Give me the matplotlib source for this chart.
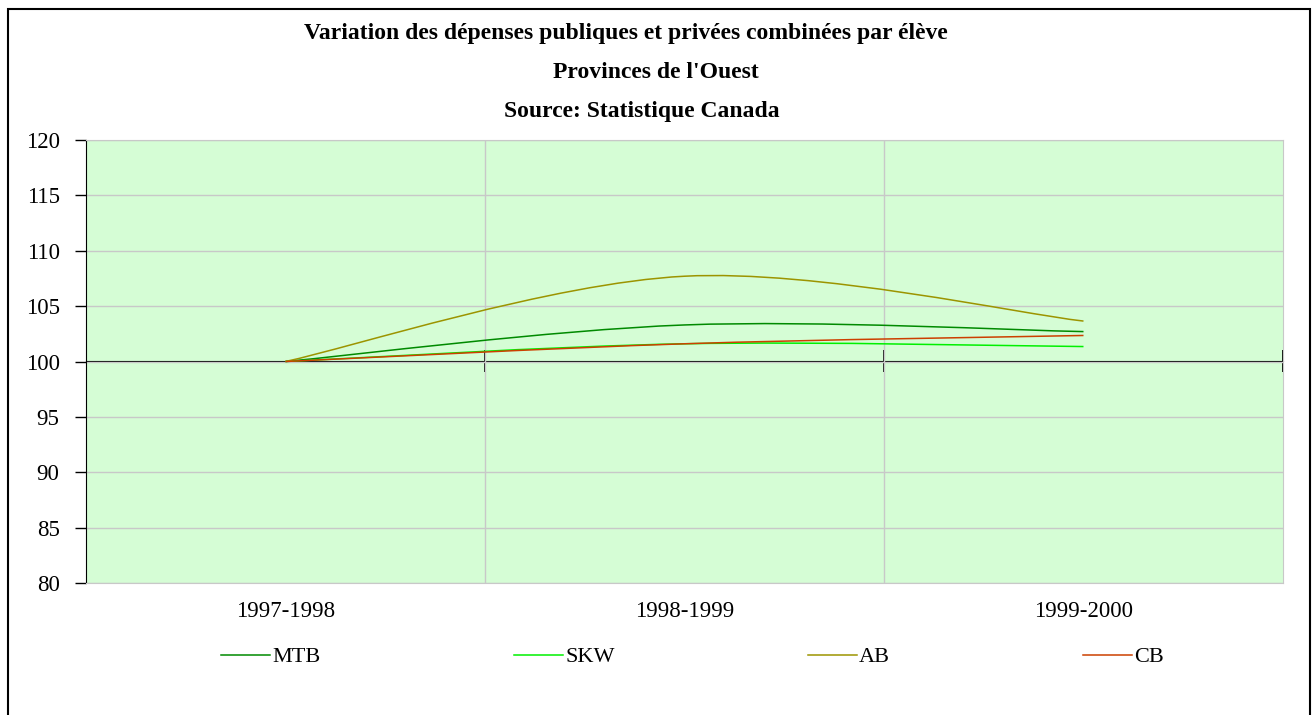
import matplotlib
matplotlib.use('Agg')
import matplotlib.pyplot as plt
from matplotlib.path import Path
from matplotlib.patches import PathPatch, Rectangle
from matplotlib.lines import Line2D

years = ['1997-1998', '1998-1999', '1999-2000']
mtb = [100, 103.3, 102.7]
skw = [100, 101.6, 101.35]
ab = [100, 107.7, 103.65]
cb = [100, 101.6, 102.35]

series = [('MTB', mtb, '#008a00'),
          ('SKW', skw, '#00f000'),
          ('AB', ab, '#9c9400'),
          ('CB', cb, '#cc4000')]

plt.rcParams['font.family'] = ['Liberation Serif', 'DejaVu Serif']

fig = plt.figure(figsize=(13.12, 7.15), dpi=100)
ax = fig.add_axes([86/1312, 1-583/715, (1283-86)/1312, (583-140)/715])
ax.set_facecolor('#d5fdd5')


def smooth_path(ys):
    # excel-style smoothed line, bezier segments between the points
    pts = list(zip(range(len(ys)), ys))
    verts = [pts[0]]
    codes = [Path.MOVETO]
    n = len(pts)
    for i in range(n - 1):
        p0 = pts[max(i - 1, 0)]
        p1 = pts[i]
        p2 = pts[i + 1]
        p3 = pts[min(i + 2, n - 1)]
        c1 = (p1[0] + (p2[0] - p0[0]) / 6, p1[1] + (p2[1] - p0[1]) / 6)
        c2 = (p2[0] - (p3[0] - p1[0]) / 6, p2[1] - (p3[1] - p1[1]) / 6)
        verts += [c1, c2, p2]
        codes += [Path.CURVE4] * 3
    return Path(verts, codes)


handles = []
for name, vals, col in series:
    ax.add_patch(PathPatch(smooth_path(vals), fill=False, edgecolor=col, lw=1.1, zorder=3))
    handles.append(Line2D([], [], color=col, lw=1.1, label=name))

ax.set_xlim(-0.5, 2.5)
ax.set_ylim(80, 120)
ax.set_yticks(range(80, 121, 5))
ax.set_xticks(range(len(years)))
ax.set_xticklabels(years)
ax.set_xticks([0.5, 1.5], minor=True)
ax.tick_params(axis='x', which='major', length=0, pad=13, labelsize=16.5)
ax.tick_params(axis='x', which='minor', length=0)
ax.tick_params(axis='y', length=8, width=1, pad=11, labelsize=16.5, direction='out')
ax.grid(True, axis='y', color='#c8c8c8', lw=1)
ax.grid(True, axis='x', which='minor', color='#c8c8c8', lw=1)
ax.set_axisbelow(True)
for s in ['top', 'right', 'bottom']:
    ax.spines[s].set_color('#c8c8c8')
ax.spines['left'].set_color('black')

# category axis crossing at 100
sec = ax.secondary_xaxis(0.5)
sec.set_xticks([0.5, 1.5, 2.5])
sec.set_xticklabels([])
sec.tick_params(axis='x', which='major', direction='inout', length=16,
                width=1.3, color='black')
sec.spines['bottom'].set_color('#404040')
sec.spines['bottom'].set_linewidth(1.2)

title_kw = dict(ha='center', va='center', fontsize=17, fontweight='bold')
fig.text(626/1312, 1-33/715, 'Variation des dépenses publiques et privées combinées par élève', **title_kw)
fig.text(656/1312, 1-72/715, "Provinces de l'Ouest", **title_kw)
fig.text(642/1312, 1-112/715, 'Source: Statistique Canada', **title_kw)

fig.legend(handles=handles, loc='center', bbox_to_anchor=(0.528, 1-657/715), ncol=4,
           frameon=False, fontsize=16, handlelength=2.2, handletextpad=0.1,
           columnspacing=8.7)

fig.patches.append(Rectangle((8/1312, -0.05), (1310-8)/1312, 1.05-9/715,
                             transform=fig.transFigure, fill=False,
                             edgecolor='black', lw=1.5))

fig.savefig('out.png', dpi=100)
